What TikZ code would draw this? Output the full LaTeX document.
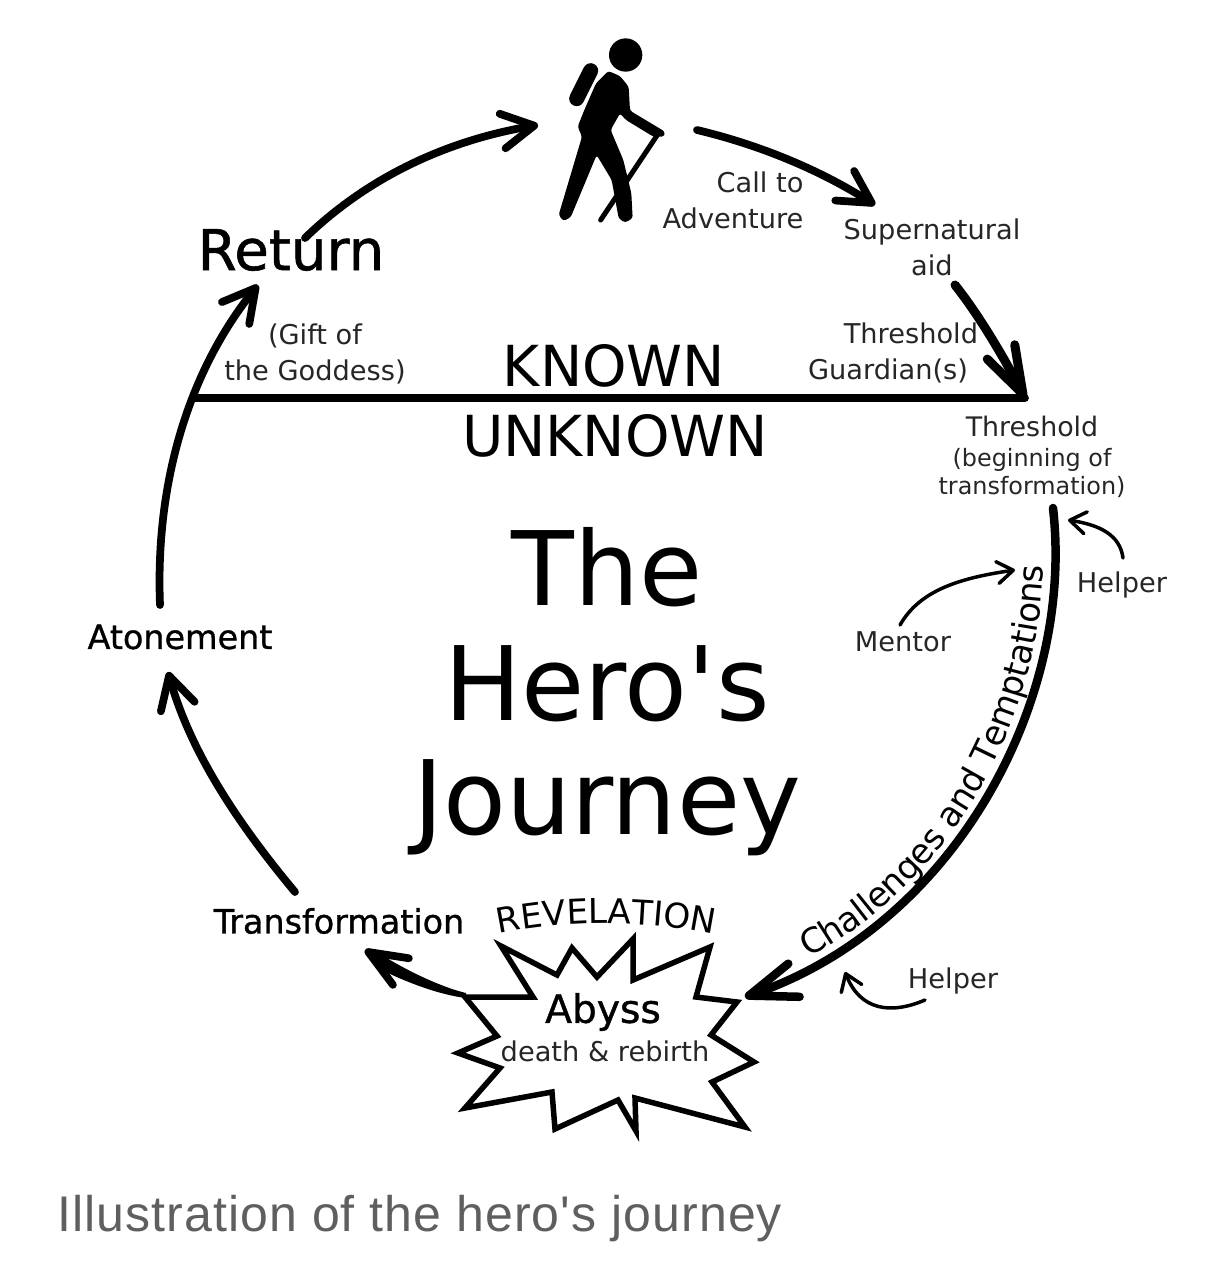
\documentclass[tikz,border=0pt]{standalone}
\usepackage{fontspec}
\setmainfont{DejaVu Sans}
\newfontfamily\boldishfont[FakeBold=1]{DejaVu Sans}
\newfontfamily\captionfont[LetterSpace=2.1]{Liberation Sans}
\usetikzlibrary{arrows.meta,decorations.text}
\definecolor{captiongray}{HTML}{5F5F5F}
\tikzset{
  stagelabel/.style={inner sep=0pt,text=black!85,align=center,font=\fontsize{15.5}{20.4}\selectfont},
  bigstage/.style={inner sep=0pt,font=\boldishfont\fontsize{19}{22}\selectfont},
  journeyline/.style={line width=0.155cm,line cap=round,line join=round},
  journeyarrow/.style={journeyline,-{Straight Barb[round,length=0.64cm,width=0.7cm]}},
  helperarrow/.style={line width=0.07cm,line cap=round,-{Straight Barb[round,length=0.32cm,width=0.44cm]}},
}
\begin{document}
\begin{tikzpicture}[x=0.02cm,y=-0.02cm]
  \useasboundingbox (0,0) rectangle (1220,1276);
  % hiker
  \begin{scope}[shift={(540,20)},x=0.00667cm,y=-0.00667cm]
    \fill (257,105) circle (50);
    \draw[line width=0.3cm,line cap=round] (152,152) -- (110,236);
    \draw[line width=0.1cm,line cap=round] (352,345) -- (182,600);
    \fill[rounded corners=1.5pt] (205,153) -- (240,168) -- (266,200) -- (270,272) -- (375,335) -- (372,350)
      -- (340,350) -- (258,300) -- (240,280) -- (212,330) -- (250,420) -- (274,520) -- (278,595)
      -- (255,608) -- (236,595) -- (215,480) -- (170,405) -- (92,592) -- (70,603) -- (56,585) -- (126,350)
      -- (113,320) -- (133,270) -- (168,190) -- cycle;
  \end{scope}
  % abyss
  \draw[line width=0.11cm,line join=miter,miter limit=10] (501,946) -- (557,975) -- (572,948) -- (597,977)
    -- (633,939) -- (633,980) -- (710,947) -- (696,997) -- (737,1002) -- (711,1035) -- (754,1062)
    -- (712,1082) -- (745,1127) -- (635,1098) -- (636,1131) -- (618,1100) -- (555,1129) -- (552,1092)
    -- (465,1108) -- (500,1068) -- (458,1053) -- (497,1036) -- (465,997) -- (533,997) -- cycle;
  % labels
  \node[inner sep=0pt,font=\boldishfont\fontsize{32}{36}\selectfont] (returnlabel) at (291,250) {Return};
  \node[stagelabel,align=right] (calllabel) at (733,200) {Call to\\Adventure};
  \node[stagelabel] (aidlabel) at (932,247) {Supernatural\\aid};
  \node[stagelabel] (giftlabel) at (315,354) {(Gift of\\the Goddess)};
  \node[stagelabel,align=right] (guardianlabel) at (893,353) {Threshold\\Guardian(s)\hspace*{0.2cm}};
  \node[inner sep=0pt,font=\fontsize{32.2}{36}\selectfont] (knownlabel) at (614,366) {KNOWN};
  \node[inner sep=0pt,font=\fontsize{32.2}{36}\selectfont] (unknownlabel) at (615,436) {UNKNOWN};
  \node[stagelabel,font=\fontsize{13.6}{16}\selectfont] (thresholdlabel) at (1032,457)
    {{\fontsize{15.3}{16}\selectfont Threshold}\\[1pt](beginning of\\transformation)};
  \node[inner sep=0pt,align=center,font=\fontsize{58.5}{65.2}\selectfont] (titlelabel) at (607,692) {The\\Hero\textquotesingle s\\Journey};
  \node[bigstage] (atonementlabel) at (180,637) {Atonement};
  \node[bigstage] (transformationlabel) at (339,921) {Transformation};
  \node[stagelabel] (mentorlabel) at (903,642) {Mentor};
  \node[stagelabel] (helperlabela) at (1122,585) {Helper};
  \node[stagelabel] (helperlabelb) at (953,981) {Helper};
  \node[inner sep=0pt,font=\boldishfont\fontsize{22.3}{26}\selectfont] (abysslabel) at (603,1012) {Abyss};
  \node[stagelabel] (deathlabel) at (605,1051) {death \& rebirth};
  \node[inner sep=0pt,text=captiongray,font=\captionfont\fontsize{28.5}{34}\selectfont,anchor=base west] (captionlabel) at (57,1231) {Illustration of the hero's journey};
  % text along curves
  \path[decoration={text along path,text align=center,text={|\fontsize{19.5}{22}\selectfont|REVELATION}},decorate]
    (495,935) .. controls (560,920) and (650,920) .. (718,935);
  \path[decoration={text along path,text align={left indent=1.5cm},raise=0.24cm,text={|\fontsize{19.5}{22}\selectfont|Challenges and Temptations}},decorate]
    (745,997) .. controls (960,930) and (1075,700) .. (1053,508);
  % line and connectors
  \coordinate (knownleft) at (195,398);
  \coordinate (knownright) at (1025,398);
  \draw[journeyline] (knownleft) -- (knownright);
  \coordinate (returnstart) at (305,238);
  \coordinate (heroin) at (538,125);
  \coordinate (heroout) at (697,130);
  \coordinate (aidin) at (875,205);
  \coordinate (aidout) at (955,285);
  \coordinate (atonementout) at (160,605);
  \coordinate (returnin) at (258,285);
  \coordinate (transout) at (295,892);
  \coordinate (atonementin) at (168,672);
  \coordinate (abyssleft) at (466,995);
  \coordinate (transbend) at (420,981);
  \coordinate (transin) at (365,950);
  \coordinate (challengestart) at (1053,508);
  \coordinate (abyssright) at (745,997);
  \draw[journeyarrow] (returnstart) .. controls (370,175) and (450,140) .. (heroin);
  \draw[journeyarrow] (heroout) .. controls (760,145) and (820,170) .. (aidin);
  \draw[journeyarrow,line width=0.18cm,-{Straight Barb[round,length=0.95cm,width=0.62cm]}] (aidout) .. controls (975,310) and (1000,350) .. (knownright);
  \draw[journeyarrow] (atonementout) .. controls (155,480) and (190,370) .. (returnin);
  \draw[journeyarrow] (transout) .. controls (235,820) and (190,750) .. (atonementin);
  \draw[journeyarrow,-{Straight Barb[round,length=0.76cm,width=0.62cm]}] (transbend) .. controls (405,975) and (385,962) .. (transin);
  \fill (abyssleft) ++(0,-2) .. controls (445,988) and (415,975) .. (385,957) -- (378,968) .. controls (405,982) and (440,995) .. (466,998) -- cycle;
  \draw[journeyarrow,line width=0.17cm,-{Straight Barb[round,length=0.95cm,width=0.7cm]}] (challengestart) .. controls (1075,700) and (955,925) .. (abyssright);
  \coordinate (helperaout) at (1123,558);
  \coordinate (helperain) at (1068,520);
  \coordinate (mentorout) at (900,625);
  \coordinate (mentorin) at (1015,570);
  \coordinate (helperbout) at (925,1000);
  \coordinate (helperbin) at (845,972);
  \draw[helperarrow] (helperaout) .. controls (1120,535) and (1100,525) .. (helperain);
  \draw[helperarrow] (mentorout) .. controls (920,590) and (960,578) .. (mentorin);
  \draw[helperarrow] (helperbout) .. controls (890,1015) and (860,1010) .. (helperbin);
\end{tikzpicture}
\end{document}
